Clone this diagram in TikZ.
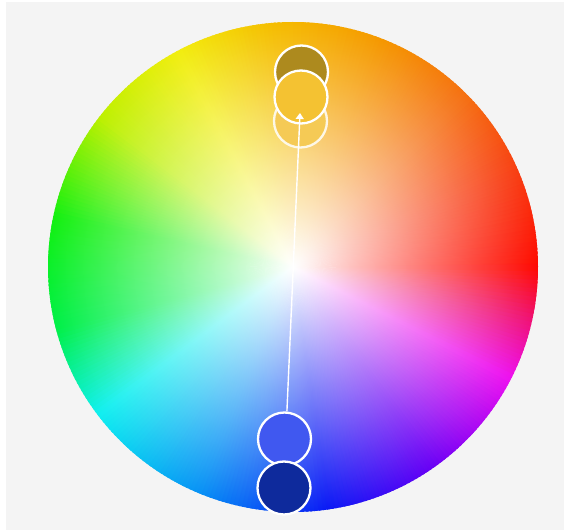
\documentclass[tikz,border=0pt]{standalone}
\usetikzlibrary{arrows.meta,fadings}
\definecolor{bgray}{HTML}{F4F4F4}
\definecolor{h0}{HTML}{FF0A00}
\definecolor{h1}{HTML}{F83C12}
\definecolor{h2}{HTML}{F57012}
\definecolor{h3}{HTML}{F59A00}
\definecolor{h4}{HTML}{F5BE00}
\definecolor{h5}{HTML}{F2EE10}
\definecolor{h6}{HTML}{BEF000}
\definecolor{h7}{HTML}{14F010}
\definecolor{h8}{HTML}{00F04A}
\definecolor{h9}{HTML}{10F0F0}
\definecolor{h10}{HTML}{0890F5}
\definecolor{h11}{HTML}{0A1AF5}
\definecolor{h12}{HTML}{6A00F5}
\definecolor{h13}{HTML}{EE10F0}
\definecolor{h14}{HTML}{F01070}
\definecolor{cLite}{HTML}{F5CA55}
\definecolor{cDark}{HTML}{AD8A1E}
\definecolor{cMid}{HTML}{F4C232}
\definecolor{cBlue}{HTML}{4058F0}
\definecolor{cNavy}{HTML}{0E2A9C}
\pgfdeclareradialshading{wfadeshade}{\pgfpointorigin}{color(0bp)=(white); color(8bp)=(black!3); color(60bp)=(black!26); color(122bp)=(black!52); color(184bp)=(black!77); color(220bp)=(black!91); color(244bp)=(black); color(260bp)=(black)}
\pgfdeclarefading{wheelfade}{\pgfuseshading{wfadeshade}}
\tikzset{
  swatch/.style={circle, draw=white, line width=2.3pt, minimum size=53pt, inner sep=0pt},
  link/.style={draw=white, line width=1.4pt, -{Triangle[width=8pt,length=6pt]}}
}
\begin{document}
\begin{tikzpicture}[x=1pt,y=1pt]
\useasboundingbox (0,0) rectangle (564,530);
\fill[white] (0,0) rectangle (564,530);
\fill[bgray] (6,0) rectangle (564,528);
% hue wheel
\begin{scope}[shift={(293,263)}]
\foreach \a/\b/\ca/\cb in {0/22/h0/h1, 22/45/h1/h2, 45/70/h2/h3, 70/95/h3/h4, 95/118/h4/h5, 118/142/h5/h6, 142/168/h6/h7, 168/195/h7/h8, 195/217/h8/h9, 217/248/h9/h10, 248/278/h10/h11, 278/305/h11/h12, 305/333/h12/h13, 333/348/h13/h14, 348/360/h14/h0} {
  \pgfmathtruncatemacro\n{\b-\a}
  \foreach \j in {1,...,\n} {
    \pgfmathsetmacro\p{100*(\j-0.5)/\n}
    \pgfmathsetmacro\t{\a+\j-1}
    \colorlet{wc}{\cb!\p!\ca}
    \fill[wc] (0,0) -- (\t:245) arc[start angle=\t, end angle=\t+1.6, radius=245] -- cycle;
  }
}
\end{scope}
% whitening towards the centre
\fill[white, path fading=wheelfade, fit fading=false, fading transform={shift={(293,263)}}] (293,263) circle[radius=246];
% swatches
\node[swatch, fill=cLite, draw opacity=0.85] (lite) at (300.5,409) {};
\node[swatch, fill=cDark] (dark) at (301.5,458) {};
\node[swatch, fill=cMid] (mid) at (301,433) {};
\node[swatch, fill=cBlue] (blue) at (284.5,91) {};
\node[swatch, fill=cNavy] (navy) at (284,42) {};
\coordinate (tip) at (300,417);
\draw[link] (blue.85) -- (tip);
\end{tikzpicture}
\end{document}
